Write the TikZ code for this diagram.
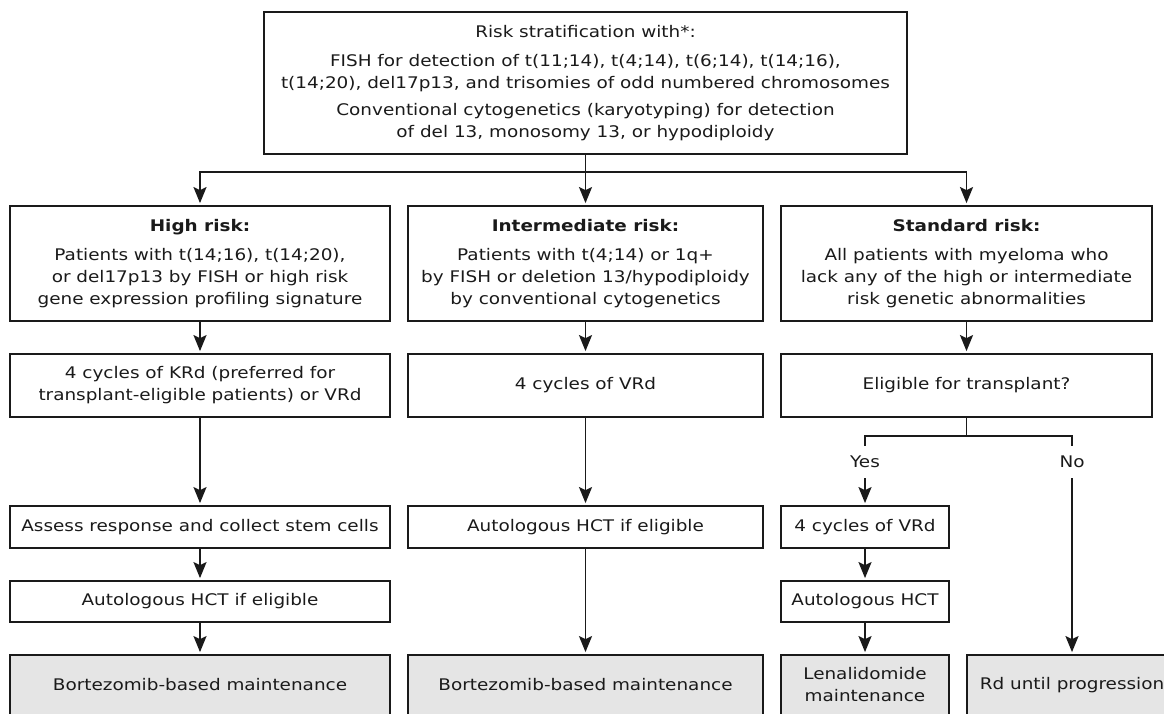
\documentclass[tikz,border=0pt]{standalone}
\usepackage{fontspec}
\setmainfont{DejaVu Sans}[FakeStretch=1.15]
\usetikzlibrary{arrows.meta}
\definecolor{linec}{HTML}{1A1A1A}
\definecolor{textc}{HTML}{1A1A1A}
\definecolor{termfill}{HTML}{E5E5E5}
\tikzset{
  box/.style={draw=linec, line width=1.8pt, align=center, inner sep=0pt, text=textc,
              font=\fontsize{16}{22}\selectfont},
  termbox/.style={box, fill=termfill},
  arr/.style={draw=linec, line width=1.8pt, shorten >=2pt,
              -{Stealth[width=13pt,length=16pt,inset=3pt]}},
  ln/.style={draw=linec, line width=1.8pt},
  lbl/.style={inner sep=0pt, text=textc, font=\fontsize{16}{22}\selectfont}
}
\begin{document}
\begin{tikzpicture}[x=1pt,y=-1pt]
\useasboundingbox (0,0) rectangle (1164,713);
\clip (0,0) rectangle (1164,713);
% top
\node[box, minimum width=643pt, minimum height=142pt] (top) at (585.5,83)
 {Risk stratification with*:\\[7pt]
  FISH for detection of t(11;14), t(4;14), t(6;14), t(14;16),\\
  t(14;20), del17p13, and trisomies of odd numbered chromosomes\\[5pt]
  Conventional cytogenetics (karyotyping) for detection\\
  of del 13, monosomy 13, or hypodiploidy};
% risk boxes
\node[box, minimum width=380pt, minimum height=115pt] (hr) at (200,263.5)
 {\textbf{High risk:}\\[7pt]
  Patients with t(14;16), t(14;20),\\
  or del17p13 by FISH or high risk\\
  gene expression profiling signature};
\node[box, minimum width=355pt, minimum height=115pt] (ir) at (585.5,263.5)
 {\textbf{Intermediate risk:}\\[7pt]
  Patients with t(4;14) or 1q+\\
  by FISH or deletion 13/hypodiploidy\\
  by conventional cytogenetics};
\node[box, minimum width=371pt, minimum height=115pt] (sr) at (966.5,263.5)
 {\textbf{Standard risk:}\\[7pt]
  All patients with myeloma who\\
  lack any of the high or intermediate\\
  risk genetic abnormalities};
% row 2
\node[box, minimum width=380pt, minimum height=63pt] (hr2) at (200,385.5)
 {4 cycles of KRd (preferred for\\transplant-eligible patients) or VRd};
\node[box, minimum width=355pt, minimum height=63pt] (ir2) at (585.5,385.5)
 {4 cycles of VRd};
\node[box, minimum width=371pt, minimum height=63pt] (sr2) at (966.5,385.5)
 {Eligible for transplant?};
% row 3
\node[box, minimum width=380pt, minimum height=42pt] (hr3) at (200,527)
 {Assess response and collect stem cells};
\node[box, minimum width=355pt, minimum height=42pt] (ir3) at (585.5,527)
 {Autologous HCT if eligible};
\node[box, minimum width=168pt, minimum height=42pt] (sy3) at (865,527)
 {4 cycles of VRd};
% row 4
\node[box, minimum width=380pt, minimum height=41pt] (hr4) at (200,601.5)
 {Autologous HCT if eligible};
\node[box, minimum width=168pt, minimum height=41pt] (sy4) at (865,601.5)
 {Autologous HCT};
% row 5
\node[termbox, minimum width=380pt, minimum height=60pt] (hr5) at (200,685)
 {Bortezomib-based maintenance};
\node[termbox, minimum width=355pt, minimum height=60pt] (ir5) at (585.5,685)
 {Bortezomib-based maintenance};
\node[termbox, minimum width=168pt, minimum height=60pt] (len) at (865,685)
 {Lenalidomide\\maintenance};
\node[termbox, minimum width=210pt, minimum height=60pt] (rd) at (1072,685)
 {Rd until progression};
% labels
\node[lbl, minimum height=32pt] (yes) at (865,462) {Yes};
\node[lbl, minimum height=32pt] (no) at (1072,462) {No};
% connectors
\coordinate (split) at (585.5,172);
\draw[ln] (top.south) -- (split);
\draw[arr] (split) -| (hr.north);
\draw[arr] (split) -- (ir.north);
\draw[arr] (split) -| (sr.north);
\draw[arr] (hr.south) -- (hr2.north);
\draw[arr] (ir.south) -- (ir2.north);
\draw[arr] (sr.south) -- (sr2.north);
\draw[arr] (hr2.south) -- (hr3.north);
\draw[arr] (hr3.south) -- (hr4.north);
\draw[arr] (hr4.south) -- (hr5.north);
\draw[arr] (ir2.south) -- (ir3.north);
\draw[arr] (ir3.south) -- (ir5.north);
\coordinate (br) at (966.5,436);
\draw[ln] (sr2.south) -- (br);
\draw[ln] (br) -| (yes.north);
\draw[ln] (br) -| (no.north);
\draw[arr] (yes.south) -- (sy3.north);
\draw[arr] (no.south) -- (rd.north);
\draw[arr] (sy3.south) -- (sy4.north);
\draw[arr] (sy4.south) -- (len.north);
\end{tikzpicture}
\end{document}
